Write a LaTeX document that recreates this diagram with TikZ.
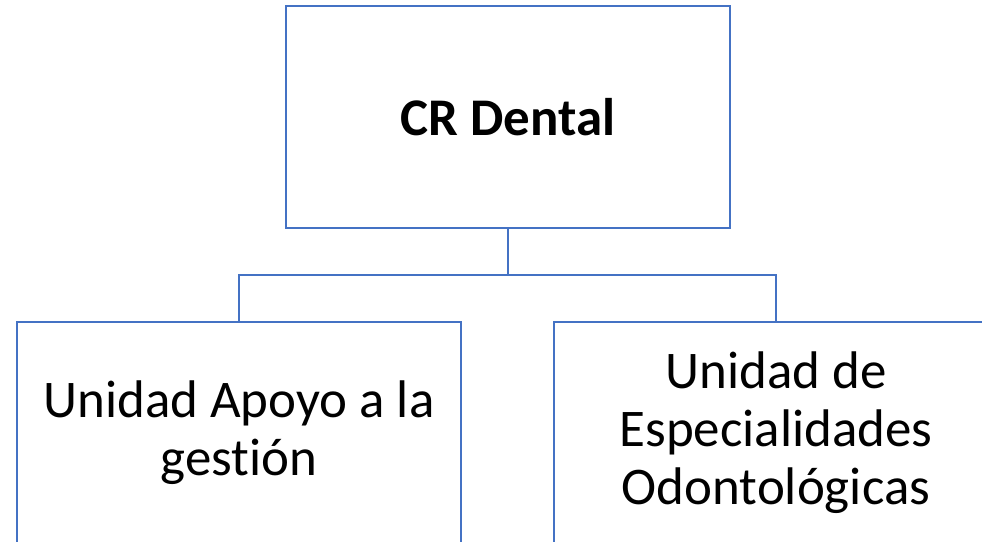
\documentclass[tikz,border=0pt]{standalone}
\usepackage{fontspec}
\setmainfont{Carlito}[RawFeature={-liga}]
\definecolor{boxblue}{HTML}{4472C4}
\begin{document}
\begin{tikzpicture}[x=0.75pt,y=-0.75pt,
  orgbox/.style={draw=boxblue,line width=1.6pt,fill=white,rectangle,
    minimum width=444*0.75pt,minimum height=222*0.75pt,inner sep=0pt,
    align=center,font=\fontsize{39.7}{43.5}\selectfont},
  link/.style={draw=boxblue,line width=1.6pt}]
\useasboundingbox (0,0) rectangle (982,542);
\clip (0,0) rectangle (982,542);
\fill[white] (0,0) rectangle (982,542);
\node[orgbox,font=\fontsize{39.7}{43.5}\selectfont\bfseries] (top) at (508,117) {CR Dental};
\node[orgbox] (left) at (239,433) {Unidad Apoyo a la\\gestión};
\node[orgbox] (right) at (776,433) {Unidad de\\Especialidades\\Odontológicas};
\coordinate (mid) at (508,275);
\draw[link] (top.south) -- (mid);
\draw[link] (mid) -| (left.north);
\draw[link] (mid) -| (right.north);
\end{tikzpicture}
\end{document}
